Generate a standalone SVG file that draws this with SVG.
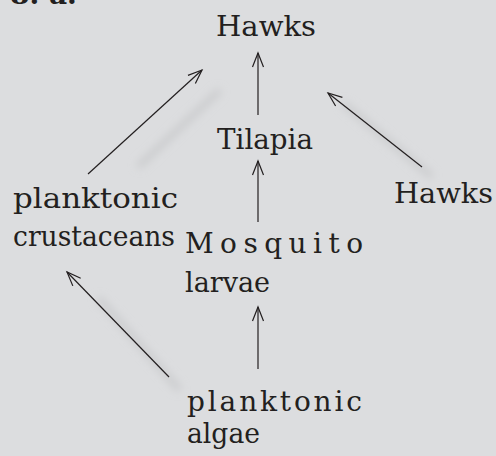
<svg xmlns="http://www.w3.org/2000/svg" width="496" height="456" viewBox="0 0 496 456">
<defs>
<style>
.t{font-family:"DejaVu Serif","Liberation Serif",serif;font-size:28px;fill:#231f20}
.c{stroke:#231f20;stroke-width:1.2;fill:none}
.s{stroke:#c9cacc;stroke-width:6;fill:none;stroke-linecap:round}
</style>
<marker id="ah" markerUnits="userSpaceOnUse" markerWidth="30" markerHeight="30" viewBox="-15 -15 30 30" refX="0" refY="0" orient="auto">
<path d="M-14,-5.5 L0,0 L-14,5.5" fill="none" stroke="#231f20" stroke-width="1.2"/>
</marker>
<filter id="blur" x="-50%" y="-50%" width="200%" height="200%"><feGaussianBlur stdDeviation="4"/></filter>
</defs>
<rect width="496" height="456" fill="#dcdddf"/>
<text class="t" x="10" y="4" style="font-weight:bold">8. a.</text>
<g id="shadows" filter="url(#blur)">
<line class="s" x1="140" y1="165" x2="218" y2="92"/>
<line class="s" x1="345" y1="105" x2="430" y2="175"/>
<line class="s" x1="100" y1="300" x2="178" y2="388"/>
</g>
<g id="connectors">
<line class="c" x1="258" y1="115" x2="258" y2="53" marker-end="url(#ah)"/>
<line class="c" x1="258" y1="222" x2="258" y2="161" marker-end="url(#ah)"/>
<line class="c" x1="258" y1="369" x2="258" y2="307" marker-end="url(#ah)"/>
<line class="c" x1="88" y1="174" x2="202" y2="70" marker-end="url(#ah)"/>
<line class="c" x1="422" y1="167" x2="328" y2="93" marker-end="url(#ah)"/>
<line class="c" x1="169" y1="377" x2="67" y2="272" marker-end="url(#ah)"/>
</g>
<g id="hawks-top"><text class="t" x="216" y="36" textLength="100" lengthAdjust="spacingAndGlyphs">Hawks</text></g>
<g id="tilapia"><text class="t" x="217" y="149" textLength="96" lengthAdjust="spacingAndGlyphs">Tilapia</text></g>
<g id="hawks-right"><text class="t" x="394" y="203" textLength="99" lengthAdjust="spacingAndGlyphs">Hawks</text></g>
<g id="crustaceans"><text class="t" x="13" y="208" textLength="165" lengthAdjust="spacingAndGlyphs">planktonic</text><text class="t" x="13" y="246" textLength="162" lengthAdjust="spacingAndGlyphs">crustaceans</text></g>
<g id="mosquito"><text class="t" x="185" y="253" textLength="178" lengthAdjust="spacing">Mosquito</text><text class="t" x="185" y="292" textLength="85" lengthAdjust="spacingAndGlyphs">larvae</text></g>
<g id="algae"><text class="t" x="187" y="411" textLength="175" lengthAdjust="spacing">planktonic</text><text class="t" x="187" y="443" textLength="73" lengthAdjust="spacingAndGlyphs">algae</text></g>
</svg>
